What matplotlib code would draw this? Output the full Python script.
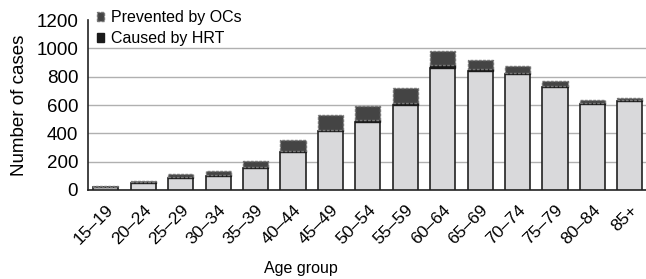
import numpy as np
import matplotlib
matplotlib.use("Agg")
import matplotlib.pyplot as plt

plt.rcParams['font.family'] = ['Liberation Sans', 'DejaVu Sans']

# Données
age_groups = ["15\u201319", "20\u201324", "25\u201329", "30\u201334", "35\u201339",
              "40\u201344", "45\u201349", "50\u201354", "55\u201359", "60\u201364",
              "65\u201369", "70\u201374", "75\u201379", "80\u201384", "85+"]
base_cases = [18, 50, 85, 100, 155, 268, 415, 478, 600, 865, 840, 817, 730, 610, 628]
caused_hrt = [2, 4, 5, 5, 6, 8, 12, 15, 15, 18, 12, 10, 8, 6, 5]
prevented_ocs = [8, 12, 23, 27, 46, 80, 100, 100, 108, 100, 66, 48, 30, 22, 17]
y_ticks = [0, 200, 400, 600, 800, 1000, 1200]

x = np.arange(len(age_groups))
base = np.array(base_cases)
hrt = np.array(caused_hrt)
ocs = np.array(prevented_ocs)

fig = plt.figure(figsize=(6.46, 2.79), dpi=100)
ax = fig.add_axes([0.136, 0.319, 0.864, 0.609])

w = 0.67
ax.bar(x, base, w, color="#d9d9db", edgecolor="#222222", linewidth=1.2, zorder=3)
b2 = ax.bar(x, hrt, w, bottom=base, color="#1a1a1a", edgecolor="#1a1a1a",
            linewidth=1.0, zorder=3, label="Caused by HRT")
b3 = ax.bar(x, ocs, w, bottom=base + hrt, color="#444444", edgecolor="#777777",
            linewidth=1.0, linestyle=(0, (2, 1)), zorder=3, label="Prevented by OCs")

ax.set_xlim(-0.48, 14.43)
ax.set_ylim(0, 1200)
ax.set_yticks(y_ticks)
ax.yaxis.grid(True, color="#b0b0b0", linewidth=1.0, zorder=0)
ax.get_ygridlines()[-1].set_visible(False)
ax.set_axisbelow(True)

for s in ["top", "right"]:
    ax.spines[s].set_visible(False)
for s in ["left", "bottom"]:
    ax.spines[s].set_color("#222222")
    ax.spines[s].set_linewidth(1.2)

ax.tick_params(axis="y", length=0, labelsize=13.5, pad=7)
ax.tick_params(axis="x", length=0, labelsize=12.5, pad=9)
ax.set_xticks(x)
ax.set_xticklabels(age_groups, rotation=45, ha="right", rotation_mode="anchor")

ax.set_ylabel("Number of cases", fontsize=13.5, labelpad=6)
ax.set_xlabel("Age group", fontsize=11.5)
ax.xaxis.set_label_coords(0.382, -0.42)

leg = ax.legend(handles=[b3, b2], loc="upper left", bbox_to_anchor=(0.005, 1.097),
                frameon=False, fontsize=11.5, handlelength=0.45, handleheight=0.45,
                handletextpad=0.45, labelspacing=0.4, borderaxespad=0)

fig.savefig("out.png", dpi=100)
